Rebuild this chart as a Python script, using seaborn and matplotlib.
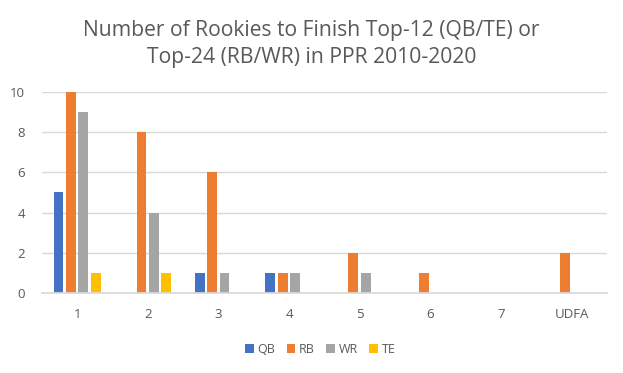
import pandas as pd
import seaborn as sns
import matplotlib.pyplot as plt

# dados
rounds = ['1', '2', '3', '4', '5', '6', '7', 'UDFA']
positions = ['QB', 'RB', 'WR', 'TE']
qb = [5, 0, 1, 1, 0, 0, 0, 0]
rb = [10, 8, 6, 1, 2, 1, 0, 2]
wr = [9, 4, 1, 1, 1, 0, 0, 0]
te = [1, 1, 0, 0, 0, 0, 0, 0]
cores = ['#4472C4', '#ED7D31', '#A5A5A5', '#FFC000']

df = pd.DataFrame({
    'Round': rounds * 4,
    'Pos': [p for p in positions for _ in rounds],
    'Count': qb + rb + wr + te,
})

sns.set_theme(style="white")
plt.rcParams['font.family'] = ['Open Sans', 'DejaVu Sans']
txt = '#595959'

fig = plt.figure(figsize=(6.23, 3.73), dpi=100)
ax = fig.add_axes([0.067, 0.2145, 0.907, 0.539])

sns.barplot(data=df, x='Round', y='Count', hue='Pos', order=rounds,
            hue_order=positions, palette=cores, width=0.7, gap=0.2,
            linewidth=0, saturation=1, ax=ax)

ax.set_ylim(0, 10)
ax.set_yticks(range(0, 11, 2))
ax.set_xlim(-0.5, len(rounds) - 0.5)
ax.grid(axis='y', color='#D9D9D9', linewidth=1)
ax.set_axisbelow(True)
for s in ['top', 'right', 'left']:
    ax.spines[s].set_visible(False)
ax.spines['bottom'].set_color('#D9D9D9')
ax.tick_params(axis='both', length=0, labelsize=9.5, colors=txt)
ax.tick_params(axis='x', pad=11)
ax.tick_params(axis='y', pad=12)
ax.set_xlabel('')
ax.set_ylabel('')

fig.suptitle('Number of Rookies to Finish Top-12 (QB/TE) or\nTop-24 (RB/WR) in PPR 2010-2020',
             y=0.882, va='center', fontsize=15.2, color=txt, linespacing=1.42)

ax.legend(loc='center', bbox_to_anchor=(0.493, -0.28), ncol=4, frameon=False,
          handlelength=0.7, handleheight=0.7, handletextpad=0.3, columnspacing=0.9,
          fontsize=9, labelcolor=txt)

plt.savefig('out.png', dpi=100)
